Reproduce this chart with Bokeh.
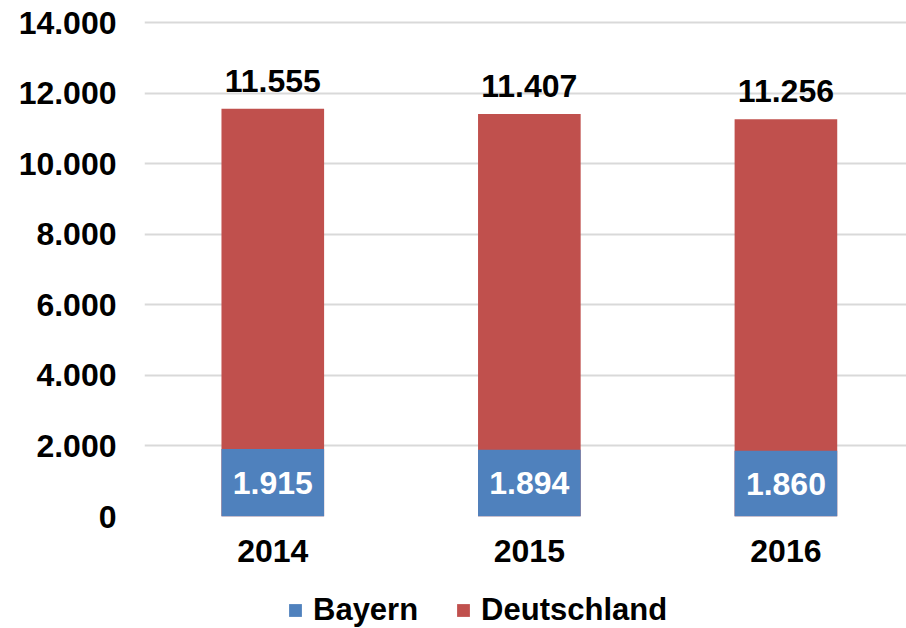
from bokeh.plotting import figure
from bokeh.models import ColumnDataSource, Range1d, FixedTicker, Legend, LegendItem, LabelSet
from bokeh.layouts import column
from bokeh.core.properties import value
from bokeh.embed import file_html
from bokeh.resources import INLINE

years = ["2014", "2015", "2016"]
deutschland = [11555, 11407, 11256]
bayern = [1915, 1894, 1860]
y_ticks = [0, 2000, 4000, 6000, 8000, 10000, 12000, 14000]
y_tick_labels = ["0", "2.000", "4.000", "6.000", "8.000", "10.000", "12.000", "14.000"]
series_names = ["Bayern", "Deutschland"]
colors = ["#4F81BD", "#C0504D"]

def fmt(v):
    return f"{v:,}".replace(",", ".")

xs = [i + 0.5 for i in range(len(years))]
src = ColumnDataSource(dict(
    x=xs, de=deutschland, by=bayern,
    by_mid=[b / 2 for b in bayern],
    de_lbl=[fmt(v) for v in deutschland],
    by_lbl=[fmt(v) for v in bayern],
))

FONT = "Liberation Sans"
p = figure(width=906, height=580, output_backend="svg", toolbar_location=None,
           x_range=Range1d(0, 2.97), y_range=Range1d(0, 14057),
           min_border_left=144, min_border_right=0, min_border_top=20, min_border_bottom=64)
p.outline_line_color = None
p.background_fill_color = "white"
p.border_fill_color = "white"

p.vbar(x="x", top="de", bottom=0, width=0.4, source=src, fill_color=colors[1], line_color=None)
p.vbar(x="x", top="by", bottom=0, width=0.4, source=src, fill_color=colors[0], line_color=None)

p.add_layout(LabelSet(x="x", y="de", text="de_lbl", source=src, text_align="center",
                      text_baseline="bottom", y_offset=17, text_font=value(FONT),
                      text_font_size=value("32px"), text_font_style=value("bold"),
                      text_color=value("black")))
p.add_layout(LabelSet(x="x", y="by_mid", text="by_lbl", source=src, text_align="center",
                      text_baseline="middle", text_font=value(FONT),
                      text_font_size=value("32px"), text_font_style=value("bold"),
                      text_color=value("white")))

p.xgrid.grid_line_color = None
p.ygrid.grid_line_color = "#D9D9D9"
p.ygrid.grid_line_width = 2
p.ygrid.ticker = FixedTicker(ticks=y_ticks)

p.yaxis.ticker = FixedTicker(ticks=y_ticks)
p.yaxis.major_label_overrides = {t: l for t, l in zip(y_ticks, y_tick_labels)}
p.xaxis.ticker = FixedTicker(ticks=xs)
p.xaxis.major_label_overrides = {x: y for x, y in zip(xs, years)}
for ax in (p.xaxis, p.yaxis):
    ax.axis_line_color = None
    ax.major_tick_line_color = None
    ax.minor_tick_line_color = None
    ax.major_label_text_font = FONT
    ax.major_label_text_font_size = "32px"
    ax.major_label_text_font_style = "bold"
    ax.major_label_text_color = "black"
p.yaxis.major_label_standoff = 22
p.xaxis.major_label_standoff = 17

# legend strip below the chart (dummy glyphs lie outside the visible range)
lg = figure(width=906, height=48, output_backend="svg", toolbar_location=None,
            x_range=Range1d(0, 1), y_range=Range1d(0, 1),
            min_border=0, outline_line_color=None)
lg.axis.visible = False
lg.grid.visible = False
items = []
for name, c in zip(series_names, colors):
    r = lg.vbar(x=[5], top=[1], width=0.1, fill_color=c, line_color=None)
    items.append(LegendItem(label=name, renderers=[r]))
legend = Legend(items=items, orientation="horizontal", location=(143, 0),
                label_text_font=FONT, label_text_font_size="31px", label_text_font_style="bold",
                label_text_color="black",
                glyph_width=16, glyph_height=16, label_standoff=10, spacing=37,
                border_line_color=None, background_fill_alpha=0, padding=0, margin=0)
lg.add_layout(legend)

open("out.html", "w").write(file_html(column(p, lg, spacing=0), INLINE))
